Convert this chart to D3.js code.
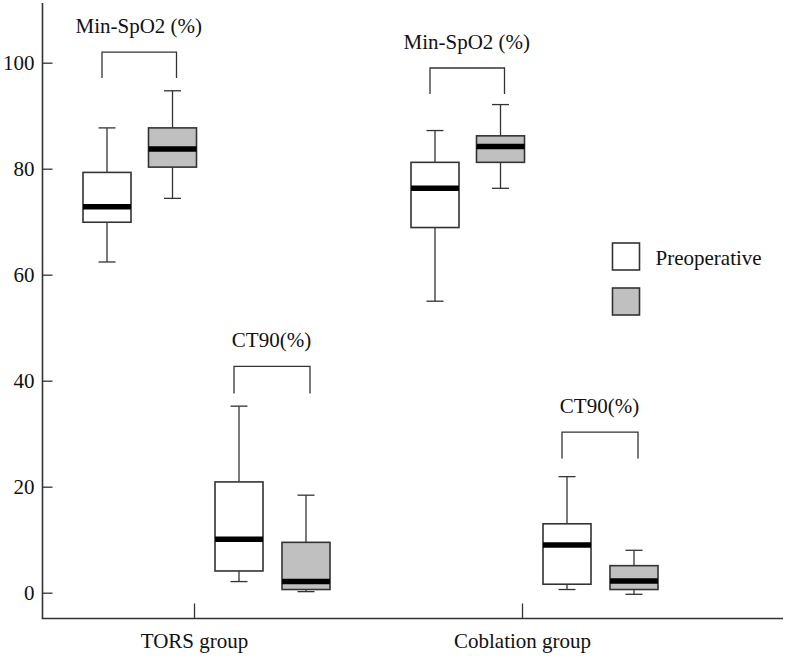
<!DOCTYPE html>
<html>
<head>
<meta charset="utf-8">
<script src="https://cdn.jsdelivr.net/npm/d3@7"></script>
<style>
  body { margin: 0; background: #fff; }
</style>
</head>
<body>
<svg id="chart" width="786" height="659"></svg>
<script>
// ---- data ----
const groups = ["TORS group", "Coblation group"];
const measures = ["Min-SpO2 (%)", "CT90(%)"];
const phases = ["Preoperative", "Postoperative"];
const legendLabels = ["Preoperative", ""];
const yTicks = [0, 20, 40, 60, 80, 100];
// [whiskerLow, Q1, median, Q3, whiskerHigh]
const torsMinSpO2Pre  = [62.4, 69.9, 72.8, 79.3, 87.7];
const torsMinSpO2Post = [74.4, 80.3, 83.7, 87.7, 94.7];
const torsCT90Pre     = [2.1, 4.1, 10.1, 20.9, 35.2];
const torsCT90Post    = [0.2, 0.6, 2.1, 9.5, 18.4];
const cobMinSpO2Pre   = [55.0, 68.9, 76.3, 81.2, 87.2];
const cobMinSpO2Post  = [76.3, 81.2, 84.2, 86.2, 92.1];
const cobCT90Pre      = [0.6, 1.6, 9.0, 13.0, 21.9];
const cobCT90Post     = [-0.3, 0.6, 2.2, 5.1, 8.0];
// bracket heights (value units): [top, ends]
const bracketTors = [[102.0, 97.1], [42.7, 37.6]];
const bracketCob  = [[99.0, 94.1], [30.3, 25.3]];

const boxes = [
  {g: 0, m: 0, p: 0, v: torsMinSpO2Pre},
  {g: 0, m: 0, p: 1, v: torsMinSpO2Post},
  {g: 0, m: 1, p: 0, v: torsCT90Pre},
  {g: 0, m: 1, p: 1, v: torsCT90Post},
  {g: 1, m: 0, p: 0, v: cobMinSpO2Pre},
  {g: 1, m: 0, p: 1, v: cobMinSpO2Post},
  {g: 1, m: 1, p: 0, v: cobCT90Pre},
  {g: 1, m: 1, p: 1, v: cobCT90Post}
];
const brackets = [
  {g: 0, m: 0, b: bracketTors[0]}, {g: 0, m: 1, b: bracketTors[1]},
  {g: 1, m: 0, b: bracketCob[0]},  {g: 1, m: 1, b: bracketCob[1]}
];

// ---- layout ----
const FONT = "'Liberation Serif', 'Times New Roman', serif";
const FS = 21;
const svg = d3.select("#chart");
const axisX = 42.5, axisBottom = 618.5, plotRight = 783;
const y = d3.scaleLinear().domain([0, 100]).range([592.7, 62.7]);
const x = d3.scalePoint().domain(groups).range([194, 522]);
const slotOffset = [[-87, -21.5], [45, 112]];   // [measure][phase] offset from group tick
const boxW = 48, capW = 17;
const fills = ["#ffffff", "#c0c0c0"];
const stroke = "#333";
const cx = d => x(groups[d.g]) + slotOffset[d.m][d.p];

// axes lines
svg.append("line").attr("x1", axisX).attr("x2", axisX)
  .attr("y1", 3).attr("y2", axisBottom).attr("stroke", stroke).attr("stroke-width", 1.6);
svg.append("line").attr("x1", axisX - 0.8).attr("x2", plotRight)
  .attr("y1", axisBottom).attr("y2", axisBottom).attr("stroke", stroke).attr("stroke-width", 1.6);

const yAxis = svg.append("g").attr("transform", `translate(${axisX},0)`)
  .call(d3.axisLeft(y).tickValues(yTicks).tickSizeInner(-10).tickSizeOuter(0).tickPadding(8));
yAxis.select(".domain").remove();
yAxis.selectAll(".tick line").attr("stroke", stroke).attr("stroke-width", 1.3);
yAxis.selectAll(".tick text").attr("fill", "#111")
  .style("font-family", FONT).style("font-size", FS + "px");

const xAxis = svg.append("g").attr("transform", `translate(0,${axisBottom})`)
  .call(d3.axisBottom(x).tickSizeInner(-15).tickSizeOuter(0).tickPadding(15));
xAxis.select(".domain").remove();
xAxis.selectAll(".tick line").attr("stroke", stroke).attr("stroke-width", 1.3);
xAxis.selectAll(".tick text").attr("fill", "#111")
  .style("font-family", FONT).style("font-size", FS + "px");

// boxes
const bg = svg.append("g").selectAll("g").data(boxes).join("g");
bg.append("line").attr("x1", cx).attr("x2", cx)
  .attr("y1", d => y(d.v[0])).attr("y2", d => y(d.v[4]))
  .attr("stroke", stroke).attr("stroke-width", 1.3);
bg.append("line").attr("x1", d => cx(d) - capW / 2).attr("x2", d => cx(d) + capW / 2)
  .attr("y1", d => y(d.v[4])).attr("y2", d => y(d.v[4]))
  .attr("stroke", stroke).attr("stroke-width", 1.3);
bg.append("line").attr("x1", d => cx(d) - capW / 2).attr("x2", d => cx(d) + capW / 2)
  .attr("y1", d => y(d.v[0])).attr("y2", d => y(d.v[0]))
  .attr("stroke", stroke).attr("stroke-width", 1.3);
bg.append("rect").attr("x", d => cx(d) - boxW / 2).attr("width", boxW)
  .attr("y", d => y(d.v[3])).attr("height", d => y(d.v[1]) - y(d.v[3]))
  .attr("fill", d => fills[d.p]).attr("stroke", stroke).attr("stroke-width", 1.6);
bg.append("line").attr("x1", d => cx(d) - boxW / 2).attr("x2", d => cx(d) + boxW / 2)
  .attr("y1", d => y(d.v[2])).attr("y2", d => y(d.v[2]))
  .attr("stroke", "#000").attr("stroke-width", 5.5);

// brackets
const br = svg.append("g").selectAll("g").data(brackets).join("g");
br.append("path").attr("fill", "none").attr("stroke", stroke).attr("stroke-width", 1.3)
  .attr("d", d => {
    const x1 = x(groups[d.g]) + slotOffset[d.m][0] - 5;
    const x2 = x(groups[d.g]) + slotOffset[d.m][1] + 4;
    return `M${x1},${y(d.b[1])}V${y(d.b[0])}H${x2}V${y(d.b[1])}`;
  });
br.append("text").attr("text-anchor", "middle").attr("fill", "#111")
  .style("font-family", FONT).style("font-size", FS + "px")
  .attr("x", d => x(groups[d.g]) + (slotOffset[d.m][0] + slotOffset[d.m][1]) / 2 - 1)
  .attr("y", d => y(d.b[0]) - 19)
  .text(d => measures[d.m]);

// legend
const lg = svg.append("g").selectAll("g").data(phases).join("g")
  .attr("transform", (d, i) => `translate(612.5,${243 + i * 45})`);
lg.append("rect").attr("width", 27).attr("height", 27)
  .attr("fill", (d, i) => fills[i]).attr("stroke", stroke).attr("stroke-width", 1.6);
lg.append("text").attr("x", 43).attr("y", 22).attr("fill", "#111")
  .style("font-family", FONT).style("font-size", FS + "px")
  .text((d, i) => legendLabels[i]);
</script>
</body>
</html>
